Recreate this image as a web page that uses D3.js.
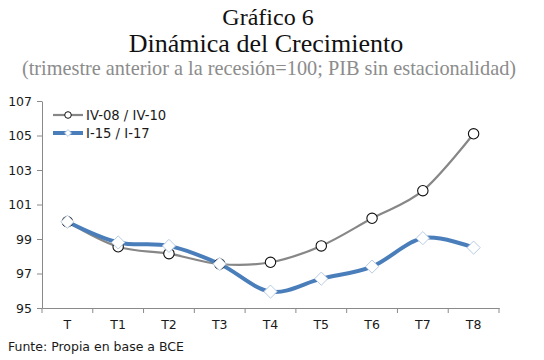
<!DOCTYPE html>
<html><head><meta charset="utf-8">
<script src="https://cdn.jsdelivr.net/npm/d3@7"></script>
<style>body{margin:0;background:#fff}svg{display:block}</style>
</head><body>
<script>
const categories = ["T","T1","T2","T3","T4","T5","T6","T7","T8"];
const seriesNames = ["IV-08 / IV-10","I-15 / I-17"];
const serie1 = [100, 98.55, 98.15, 97.55, 97.65, 98.6, 100.2, 101.8, 105.1];
const serie2 = [100, 98.8, 98.6, 97.55, 95.95, 96.7, 97.4, 99.05, 98.5];
const yTicks = [95, 97, 99, 101, 103, 105, 107];

const W = 544, H = 360;
const svg = d3.select("body").append("svg").attr("width", W).attr("height", H);

const serif = "'Liberation Serif','Times New Roman',serif";
const sans = "'DejaVu Sans',Verdana,sans-serif";

svg.append("text").attr("x", 268).attr("y", 25).attr("text-anchor","middle")
  .style("font-family", serif).style("font-size","24px").attr("fill","#111").text("Gráfico 6");
svg.append("text").attr("x", 266).attr("y", 52).attr("text-anchor","middle")
  .style("font-family", serif).style("font-size","26px").attr("fill","#111").text("Dinámica del Crecimiento");
svg.append("text").attr("x", 269).attr("y", 75).attr("text-anchor","middle")
  .style("font-family", serif).style("font-size","20.3px").attr("fill","#8c8c8c")
  .text("(trimestre anterior a la recesión=100; PIB sin estacionalidad)");

const x = d3.scaleBand().domain(categories).range([42, 499]).padding(0);
const y = d3.scaleLinear().domain([95, 107]).range([308, 101]);
const cx = d => x(d) + x.bandwidth()/2;

const axisColor = "#8a8a8a";
const yAxis = svg.append("g").attr("transform","translate(42,0)")
  .call(d3.axisLeft(y).tickValues(yTicks).tickSize(5).tickSizeOuter(0).tickFormat(d3.format("d")));
const xAxis = svg.append("g").attr("transform","translate(0,308)")
  .call(d3.axisBottom(x).tickSize(0).tickSizeOuter(0));
xAxis.selectAll(".sep").data(d3.range(categories.length+1)).enter().append("line")
  .attr("class","sep").attr("x1", i => 42 + i*x.bandwidth()).attr("x2", i => 42 + i*x.bandwidth())
  .attr("y1",0).attr("y2",5).attr("stroke",axisColor);
[yAxis, xAxis].forEach(g => {
  g.select(".domain").attr("stroke", axisColor);
  g.selectAll(".tick line").attr("stroke", axisColor);
  g.selectAll("text").style("font-family", sans).style("font-size","12.5px").attr("fill","#1a1a1a");
});
yAxis.selectAll("text").attr("x", -10);
xAxis.selectAll(".tick text").attr("dy","0").attr("y", 21);

const line = d3.line().x((d,i) => cx(categories[i])).y(d => y(d)).curve(d3.curveCatmullRom.alpha(0));

const gray = "#878787", blue = "#4a7ebb";
svg.append("path").datum(serie1).attr("d", line).attr("fill","none").attr("stroke",gray).attr("stroke-width",2.2);
svg.append("path").datum(serie2).attr("d", line).attr("fill","none").attr("stroke",blue).attr("stroke-width",4);

svg.selectAll(".c1").data(serie1).enter().append("circle")
  .attr("cx",(d,i)=>cx(categories[i])).attr("cy",d=>y(d)).attr("r",5.2)
  .attr("fill","#fff").attr("stroke","#111").attr("stroke-width",1.1);
const diamond = d3.symbol().type(d3.symbolDiamond2).size(110);
svg.selectAll(".c2").data(serie2).enter().append("path")
  .attr("transform",(d,i)=>`translate(${cx(categories[i])},${y(d)})`)
  .attr("d", diamond).attr("fill","#fff").attr("stroke","#b9cce4").attr("stroke-width",1);

// legend
const lg = svg.append("g");
lg.append("line").attr("x1",53).attr("x2",83).attr("y1",115).attr("y2",115).attr("stroke",gray).attr("stroke-width",2.2);
lg.append("circle").attr("cx",68).attr("cy",115).attr("r",3.3).attr("fill","#fff").attr("stroke","#111").attr("stroke-width",1);
lg.append("text").attr("x",86).attr("y",119.5).style("font-family",sans).style("font-size","13.2px").attr("fill","#1a1a1a").text(seriesNames[0]);
lg.append("line").attr("x1",53).attr("x2",83).attr("y1",133).attr("y2",133).attr("stroke",blue).attr("stroke-width",4);
lg.append("path").attr("transform","translate(68,133)").attr("d", d3.symbol().type(d3.symbolDiamond2).size(30)).attr("fill","#fff").attr("stroke","#b9cce4");
lg.append("text").attr("x",86).attr("y",137.5).style("font-family",sans).style("font-size","13.2px").attr("fill","#1a1a1a").text(seriesNames[1]);

svg.append("text").attr("x",8).attr("y",351).style("font-family",sans).style("font-size","12.5px").attr("fill","#1a1a1a")
  .text("Funte: Propia en base a BCE");
</script>
</body></html>
